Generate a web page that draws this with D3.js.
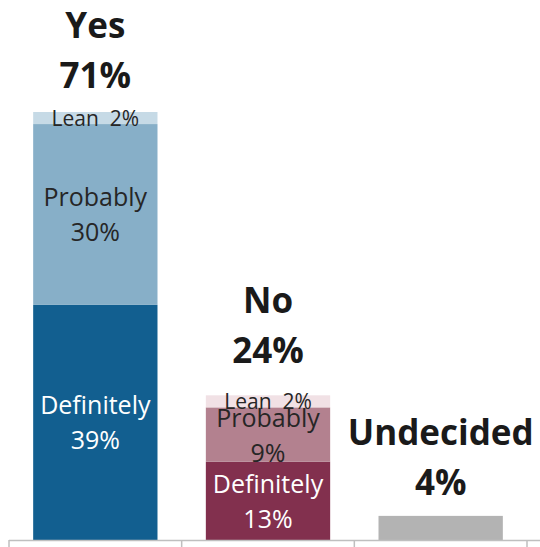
<!DOCTYPE html>
<html><head><meta charset="utf-8">
<script src="https://cdn.jsdelivr.net/npm/d3@7"></script>
<style>html,body{margin:0;padding:0;background:#fff;overflow:hidden}</style>
</head><body><svg id="c" width="540" height="547"></svg>
<script>
// ---- data ----
const groups = ["Yes", "No", "Undecided"];
const groupTotals = [71, 24, 4];
const segmentNames = ["Definitely", "Probably", "Lean"];
const yesValues = [39, 30, 2];
const noValues = [13, 9, 2];
const undecidedValues = [4];

// ---- layout / style ----
const W = 540, H = 547, base = 540;
const svg = d3.select("#c");
const x = d3.scaleBand().domain(groups).range([9, 527]).padding(0);
const y = d3.scaleLinear().domain([0, 71]).range([base, 112]);
const barW = x.bandwidth() * 0.72;
const font = "'Open Sans', 'DejaVu Sans', sans-serif";

const colors = {
  Yes: ["#125f90", "#87afc8", "#c6dae6"],
  No: ["#82304e", "#b3818f", "#f1e1e5"],
  Undecided: ["#b3b3b3"]
};
const textColors = {
  Yes: ["#ffffff", "#262626", "#262626"],
  No: ["#ffffff", "#262626", "#262626"]
};
const bigGap = {Yes: 24, No: 32, Undecided: 21};

const series = {Yes: yesValues, No: noValues, Undecided: undecidedValues};

groups.forEach((g, gi) => {
  const vals = series[g];
  let cum = 0;
  const cx = x(g) + x.bandwidth() / 2;
  vals.forEach((v, i) => {
    const y0 = y(cum), y1 = y(cum + v);
    svg.append("rect")
      .attr("x", cx - barW / 2).attr("width", barW)
      .attr("y", y1).attr("height", y0 - y1)
      .attr("fill", colors[g][i]);
    cum += v;
  });
});

// segment labels
groups.forEach((g) => {
  if (g === "Undecided") return;
  const vals = series[g];
  let cum = 0;
  const cx = x(g) + x.bandwidth() / 2;
  vals.forEach((v, i) => {
    const mid = (y(cum) + y(cum + v)) / 2;
    const name = segmentNames[i];
    const col = textColors[g][i];
    if (name === "Lean") {
      svg.append("text").attr("x", cx).attr("y", mid + 8)
        .attr("text-anchor", "middle").attr("font-family", font)
        .attr("font-size", 21).attr("fill", col)
        .attr("xml:space", "preserve").style("white-space", "pre")
        .text(name + "  " + v + "%");
    } else {
      const t = svg.append("text").attr("text-anchor", "middle")
        .attr("font-family", font).attr("font-size", 25).attr("fill", col);
      t.append("tspan").attr("x", cx).attr("y", mid - 8).text(name);
      t.append("tspan").attr("x", cx).attr("y", mid + 27).text(v + "%");
    }
    cum += v;
  });
});

// big group labels
groups.forEach((g, gi) => {
  const cx = x(g) + x.bandwidth() / 2;
  const top = y(groupTotals[gi]);
  const t = svg.append("text").attr("text-anchor", "middle")
    .attr("font-family", font).attr("font-weight", 700)
    .attr("font-size", 35).attr("fill", "#1a1a1a");
  t.append("tspan").attr("x", cx).attr("y", top - bigGap[g] - 50).text(g);
  t.append("tspan").attr("x", cx).attr("y", top - bigGap[g]).text(groupTotals[gi] + "%");
});

// axis
const axis = d3.axisBottom(x).tickSize(7).tickSizeOuter(0).tickFormat("");
const ag = svg.append("g").attr("transform", `translate(0,${base})`).call(axis);
ag.select(".domain").attr("d", `M9,0.5H${W}`).attr("stroke", "#bfbfbf").attr("stroke-width", 1.5);
ag.selectAll(".tick").remove();
const tickXs = groups.map(g => x(g)).concat([x.range()[1]]);
ag.selectAll("line.tk").data(tickXs).enter().append("line")
  .attr("x1", d => d).attr("x2", d => d).attr("y1", 0).attr("y2", 7)
  .attr("stroke", "#bfbfbf").attr("stroke-width", 1.5);
</script></body></html>
